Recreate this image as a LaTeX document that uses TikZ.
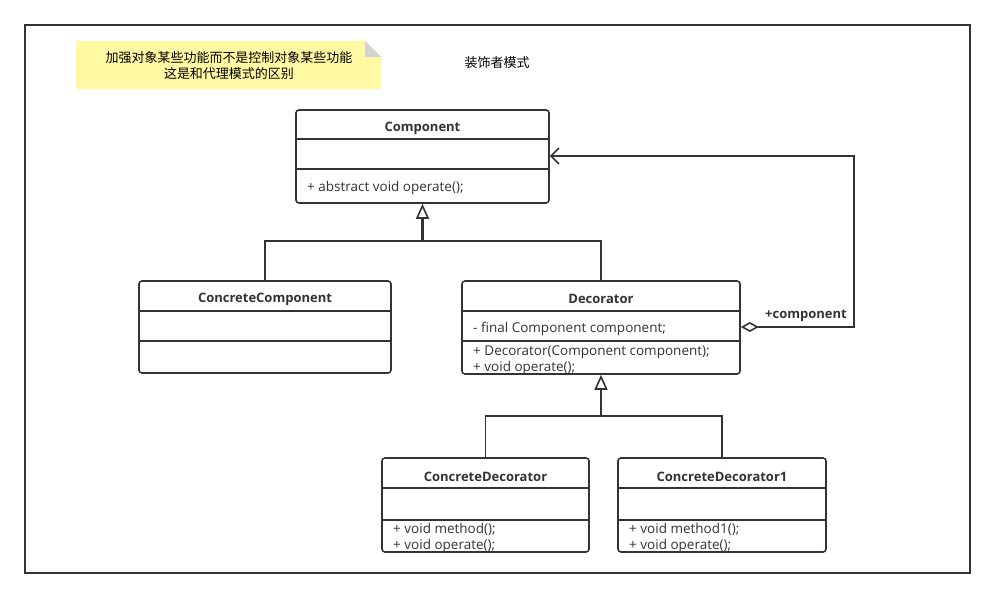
\documentclass[tikz,border=0pt]{standalone}
\usepackage{fontspec}
\setmainfont{Open Sans}
\newfontfamily\cjk{Noto Sans CJK SC}
\usetikzlibrary{arrows.meta,positioning}
\definecolor{linegray}{HTML}{333333}
\definecolor{notefill}{HTML}{FFF9A3}
\definecolor{foldgray}{HTML}{D2D2D2}
\tikzset{
  umlbox/.style={draw=linegray, line width=1.6pt, rounded corners=3pt, fill=white, inner sep=0pt},
  divider/.style={draw=linegray, line width=1.4pt},
  title/.style={font=\fontsize{13}{15}\selectfont\bfseries, text=linegray},
  member/.style={font=\fontsize{13.5}{15}\selectfont, text=linegray, anchor=west, inner sep=0pt},
  link/.style={draw=linegray, line width=1.6pt},
  inherit/.style={draw=linegray, line width=2.8pt, -{Triangle[open, length=15pt, width=13pt, fill=white, line width=1.6pt]}},
  aggr/.style={draw=linegray, line width=1.6pt, {Diamond[open, length=18pt, width=10pt, fill=white]}-{Straight Barb[length=8pt, width=16pt]}}
}
\begin{document}
\begin{tikzpicture}[x=1pt, y=-1pt]
  \useasboundingbox (0,0) rectangle (994,599);
  \draw[linegray, line width=1.6pt] (25,25) rectangle (970,573);
  % note
  \fill[notefill] (76,41) -- (365,41) -- (381,57) -- (381,89) -- (76,89) -- cycle;
  \fill[foldgray] (365,41) -- (381,57) -- (365,57) -- cycle;
  \node (note) [font=\cjk\fontsize{13}{16}\selectfont, align=center, text=black] at (229,66) {加强对象某些功能而不是控制对象某些功能\\这是和代理模式的区别};
  \node (caption) [font=\cjk\fontsize{13}{15}\selectfont, text=black] at (497,63) {装饰者模式};

  % classes
  \node (comp) [umlbox, minimum width=253pt, minimum height=93pt] at (422.5,156.5) {};
  \node (cc) [umlbox, minimum width=252pt, minimum height=92pt] at (265,327) {};
  \node (dec) [umlbox, minimum width=278pt, minimum height=93pt] at (601,327.5) {};
  \node (cd) [umlbox, minimum width=207pt, minimum height=94pt] at (485.5,505) {};
  \node (cd1) [umlbox, minimum width=208pt, minimum height=94pt] at (722,505) {};

  \draw[divider] (comp.west |- 0,139) -- (comp.east |- 0,139);
  \draw[divider] (comp.west |- 0,169) -- (comp.east |- 0,169);
  \draw[divider] (cc.west |- 0,311) -- (cc.east |- 0,311);
  \draw[divider] (cc.west |- 0,341) -- (cc.east |- 0,341);
  \draw[divider] (dec.west |- 0,311) -- (dec.east |- 0,311);
  \draw[divider] (dec.west |- 0,341) -- (dec.east |- 0,341);
  \draw[divider] (cd.west |- 0,488) -- (cd.east |- 0,488);
  \draw[divider] (cd.west |- 0,520) -- (cd.east |- 0,520);
  \draw[divider] (cd1.west |- 0,488) -- (cd1.east |- 0,488);
  \draw[divider] (cd1.west |- 0,520) -- (cd1.east |- 0,520);

  \node (compT) [title] at (comp.north |- 0,128) {Component};
  \node (compOp) [member] at (307,188) {+ abstract void operate();};
  \node (ccT) [title] at (cc.north |- 0,299) {ConcreteComponent};
  \node (decT) [title] at (dec.north |- 0,299) {Decorator};
  \node (decAttr) [member] at (473,329) {- final Component component;};
  \node (decCtor) [member] at (473,352.5) {+ Decorator(Component component);};
  \node (decOp) [member] at (473,367.5) {+ void operate();};
  \node (cdT) [title] at (cd.north |- 0,477) {ConcreteDecorator};
  \node (cdM) [member] at (393,529.5) {+ void method();};
  \node (cdOp) [member] at (393,545.5) {+ void operate();};
  \node (cd1T) [title] at (cd1.north |- 0,477) {ConcreteDecorator1};
  \node (cd1M) [member] at (629,529.5) {+ void method1();};
  \node (cd1Op) [member] at (629,545.5) {+ void operate();};

  % generalisation
  \coordinate (j1) at (comp.south |- 0,241);
  \coordinate (j2) at (dec.south |- 0,416);
  \draw[link] (cc.north) |- (j1) -| (dec.north);
  \draw[inherit] (j1) -- (comp.south);
  \draw[link] (cd.north) |- (j2) -| (cd1.north);
  \draw[inherit] (j2) -- (dec.south);

  % aggregation
  \coordinate (bend) at (854,327);
  \draw[aggr] (dec.east |- bend) -- (bend) |- (comp.east |- 0,156);
  \node (aggL) [font=\fontsize{13}{15}\selectfont\bfseries, text=linegray, anchor=south east, inner sep=0pt] at (847,322) {+component};
\end{tikzpicture}
\end{document}
